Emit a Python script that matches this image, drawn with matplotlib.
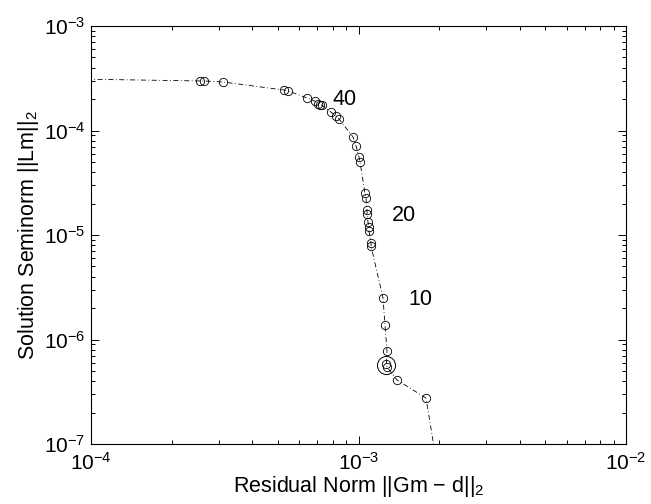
import numpy as np
import matplotlib
matplotlib.use("Agg")
import matplotlib.pyplot as plt

plt.rcParams['font.family'] = ['Liberation Sans', 'DejaVu Sans']
plt.rcParams['mathtext.fontset'] = 'custom'
plt.rcParams['mathtext.rm'] = 'Liberation Sans'
plt.rcParams['mathtext.it'] = 'Liberation Sans:italic'

# residual norm ||Gm - d||_2 and seminorm ||Lm||_2 at the plotted solutions
rho = [2.56e-4, 2.65e-4, 3.12e-4, 5.27e-4, 5.45e-4, 6.42e-4, 6.88e-4, 7.06e-4,
       7.18e-4, 7.30e-4, 7.89e-4, 8.24e-4, 8.45e-4, 9.54e-4, 9.79e-4, 1.004e-3,
       1.013e-3, 1.057e-3, 1.066e-3, 1.076e-3, 1.076e-3, 1.085e-3, 1.095e-3,
       1.095e-3, 1.114e-3, 1.114e-3, 1.235e-3, 1.256e-3, 1.278e-3, 1.272e-3,
       1.278e-3, 1.393e-3, 1.788e-3]
eta = [2.98e-4, 2.98e-4, 2.91e-4, 2.44e-4, 2.39e-4, 2.05e-4, 1.91e-4, 1.79e-4,
       1.75e-4, 1.75e-4, 1.50e-4, 1.38e-4, 1.29e-4, 8.67e-5, 7.11e-5, 5.58e-5,
       5.00e-5, 2.52e-5, 2.26e-5, 1.73e-5, 1.59e-5, 1.33e-5, 1.19e-5,
       1.09e-5, 8.38e-6, 7.85e-6, 2.49e-6, 1.38e-6, 7.76e-7, 5.83e-7,
       5.46e-7, 4.10e-7, 2.75e-7]

# curve ends beyond the first and last marker
rho_start, eta_start = 8.0e-5, 3.12e-4
rho_end, eta_end = 1.98e-3, 5.6e-8

# selected corner
rho_corner, eta_corner = 1.267e-3, 5.70e-7

# index labels
lab_txt = ['40', '20', '10']
lab_rho = [7.96e-4, 1.333e-3, 1.531e-3]
lab_eta = [2.0e-4, 1.55e-5, 2.39e-6]

fig = plt.figure(figsize=(6.51, 5.04), dpi=100)
ax = fig.add_axes([0.1398, 0.119, 0.8218, 0.8294])

curve_rho = [rho_start] + rho + [rho_end]
curve_eta = [eta_start] + eta + [eta_end]
ax.loglog(curve_rho, curve_eta, color='k', linestyle=(0, (6, 3, 1, 3)), linewidth=0.6)
ax.loglog(rho, eta, 'o', mfc='none', mec='k', ms=6, mew=0.6)
ax.loglog(rho_corner, eta_corner, 'o', mfc='none', mec='k', ms=13, mew=0.7)

for t, x, y in zip(lab_txt, lab_rho, lab_eta):
    ax.text(x, y, t, fontsize=15.5, ha='left', va='center')

ax.set_xlim(1e-4, 1e-2)
ax.set_ylim(1e-7, 1e-3)
ax.set_xlabel(r'Residual Norm ||Gm $-$ d||$_2$', fontsize=15.5, labelpad=0)
ax.set_ylabel(r'Solution Seminorm ||Lm||$_2$', fontsize=15.5, labelpad=2)

ax.tick_params(which='both', direction='in', top=True, right=True,
               labelsize=15, width=0.7)
ax.tick_params(which='major', length=6)
ax.tick_params(axis='x', which='major', pad=6)
ax.tick_params(axis='y', which='major', pad=4)
ax.tick_params(which='minor', length=3)
for s in ax.spines.values():
    s.set_linewidth(0.8)

fig.savefig('out.png', dpi=100)
